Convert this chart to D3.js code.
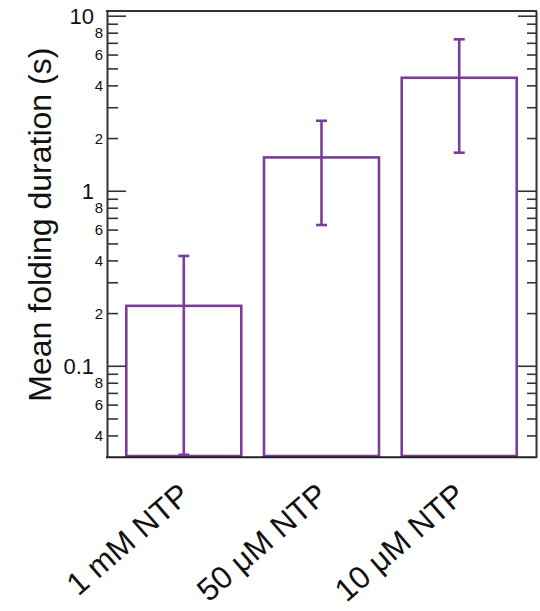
<!DOCTYPE html>
<html>
<head>
<meta charset="utf-8">
<script src="https://cdn.jsdelivr.net/npm/d3@7"></script>
<style>
  html, body { margin: 0; padding: 0; background: #fff; }
  svg { display: block; font-family: "Liberation Sans", Arial, Helvetica, sans-serif; }
</style>
</head>
<body>
<svg id="chart" width="540" height="611"></svg>
<script>
// ---- data ----
const categories = ["1 mM NTP", "50 μM NTP", "10 μM NTP"];
const meanDuration = [0.220, 1.55, 4.42];
const errLower = [0.031, 0.637, 1.65];
const errUpper = [0.424, 2.51, 7.33];
const yDomain = [0.03, 10.64];
const barBase = 0.0305;
const decadeTicks = [0.1, 1, 10];
const decadeLabels = ["0.1", "1", "10"];
const minorTicks = [0.04, 0.05, 0.06, 0.07, 0.08, 0.09,
                    0.2, 0.3, 0.4, 0.5, 0.6, 0.7, 0.8, 0.9,
                    2, 3, 4, 5, 6, 7, 8, 9];
const minorLabeled = [0.04, 0.06, 0.08, 0.2, 0.4, 0.6, 0.8, 2, 4, 6, 8];
const minorLabels = ["4", "6", "8", "2", "4", "6", "8", "2", "4", "6", "8"];
const yTitle = "Mean folding duration (s)";

// ---- layout ----
const svg = d3.select("#chart");
const mLeft = 107, mRight = 536, mTop = 11, mBottom = 457.3;
const purple = "#7b3d9c";
const axisColor = "#333";

const x = d3.scaleBand().domain(categories).range([mLeft, mRight])
  .paddingInner(0.165).paddingOuter(0.14);
const y = d3.scaleLog().domain(yDomain).range([mBottom, mTop]);

const allTicks = decadeTicks.concat(minorTicks);
const isMajor = v => decadeTicks.includes(v);
const labelFor = v => {
  let i = decadeTicks.indexOf(v);
  if (i >= 0) return decadeLabels[i];
  i = minorLabeled.indexOf(v);
  return i >= 0 ? minorLabels[i] : "";
};

// bars
const data = categories.map((c, i) => ({c, m: meanDuration[i], lo: errLower[i], hi: errUpper[i]}));
svg.append("g").selectAll("rect").data(data).join("rect")
  .attr("x", d => x(d.c))
  .attr("width", x.bandwidth())
  .attr("y", d => y(d.m))
  .attr("height", d => y(barBase) - y(d.m))
  .attr("fill", "none")
  .attr("stroke", purple)
  .attr("stroke-width", 2.6);

// error bars
const eb = svg.append("g").attr("stroke", purple).attr("stroke-width", 2.6).attr("fill", "none");
const cx = d => x(d.c) + x.bandwidth() / 2;
eb.selectAll("line.v").data(data).join("line").attr("class", "v")
  .attr("x1", cx).attr("x2", cx).attr("y1", d => y(d.lo)).attr("y2", d => y(d.hi));
eb.selectAll("line.t").data(data).join("line").attr("class", "t")
  .attr("x1", d => cx(d) - 5.5).attr("x2", d => cx(d) + 5.5).attr("y1", d => y(d.hi)).attr("y2", d => y(d.hi));
eb.selectAll("line.b").data(data).join("line").attr("class", "b")
  .attr("x1", d => cx(d) - 5.5).attr("x2", d => cx(d) + 5.5).attr("y1", d => y(d.lo)).attr("y2", d => y(d.lo));

// left axis
const gL = svg.append("g").attr("transform", `translate(${mLeft},0)`)
  .call(d3.axisLeft(y).tickValues(allTicks).tickFormat(labelFor).tickSizeInner(-11).tickSizeOuter(0).tickPadding(4));
gL.select(".domain").attr("stroke", axisColor).attr("stroke-width", 2);
gL.selectAll(".tick line").attr("stroke", axisColor).attr("stroke-width", 1.6)
  .attr("x2", d => isMajor(d) ? 19 : 11);
gL.selectAll(".tick text").attr("fill", "#111")
  .attr("font-size", d => isMajor(d) ? 22 : 15)
  .attr("x", d => isMajor(d) ? -13 : -4)
  .attr("dy", "0.35em");

// right axis
const gR = svg.append("g").attr("transform", `translate(${mRight},0)`)
  .call(d3.axisRight(y).tickValues(allTicks).tickFormat("").tickSizeInner(-9).tickSizeOuter(0));
gR.select(".domain").attr("stroke", axisColor).attr("stroke-width", 2);
gR.selectAll(".tick line").attr("stroke", axisColor).attr("stroke-width", 1.6)
  .attr("x2", d => isMajor(d) ? -18 : -9);

// top & bottom frame
svg.append("line").attr("x1", mLeft - 1).attr("x2", mRight + 1).attr("y1", mTop).attr("y2", mTop)
  .attr("stroke", axisColor).attr("stroke-width", 2);
svg.append("line").attr("x1", mLeft - 1).attr("x2", mRight + 1).attr("y1", mBottom).attr("y2", mBottom)
  .attr("stroke", "#222").attr("stroke-width", 2);

// x labels
svg.append("g").selectAll("text").data(categories).join("text")
  .attr("transform", d => `translate(${x(d) + x.bandwidth() / 2 + 8},${498}) rotate(-41)`)
  .attr("text-anchor", "end")
  .attr("font-size", 31.5)
  .attr("fill", "#111")
  .text(d => d);

// y title
svg.append("text")
  .attr("transform", `translate(51,${(46.7 + 402.7) / 2}) rotate(-90)`)
  .attr("text-anchor", "middle")
  .attr("font-size", 32)
  .attr("fill", "#111")
  .text(yTitle);
</script>
</body>
</html>
